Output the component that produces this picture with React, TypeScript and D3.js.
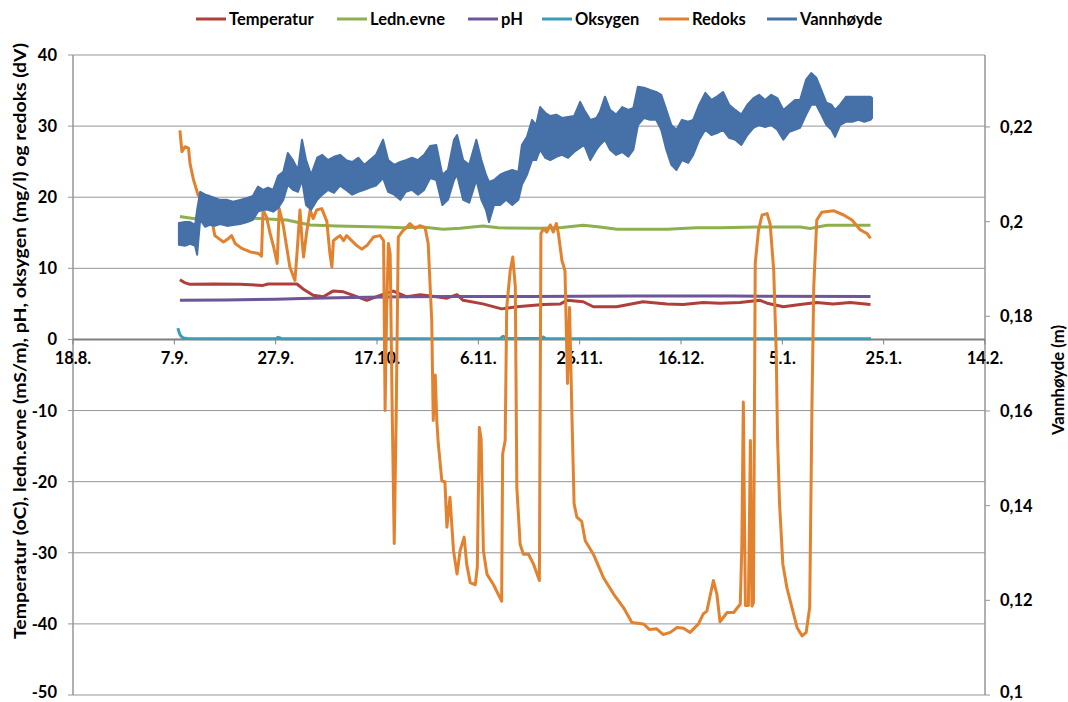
import React from 'react';
import * as d3 from 'd3';

type Pt = [number, number]; // [days after 18.8., value]

const startDate = new Date(2010, 7, 18);
const xTickLabels = ['18.8.', '7.9.', '27.9.', '17.10.', '6.11.', '26.11.', '16.12.', '5.1.', '25.1.', '14.2.'];
const leftTicks = [40, 30, 20, 10, 0, -10, -20, -30, -40, -50];
const rightTicks = [0.22, 0.2, 0.18, 0.16, 0.14, 0.12, 0.1];

const temperatur: Pt[] = [
  [21.1, 8.4], [22, 8.0], [23.1, 7.75], [28, 7.8], [33, 7.75], [37.5, 7.6], [38.5, 7.8], [44.2, 7.8],
  [45.4, 7.1], [47.4, 6.2], [49.4, 6.0], [51.3, 6.8], [53.4, 6.7], [55.3, 6.2], [58.0, 5.5], [60.6, 6.2],
  [63.2, 6.8], [65.9, 6.0], [68.5, 6.3], [71.8, 6.0], [73.8, 5.8], [75.8, 6.3], [77.0, 5.5], [80.9, 5.0],
  [84.6, 4.3], [87.6, 4.6], [92.8, 4.9], [96.2, 5.0], [97.5, 5.5], [100.7, 5.3], [102.7, 4.6], [107.3, 4.6],
  [112.5, 5.3], [117.2, 5.0], [120.4, 4.9], [124.4, 5.2], [127.7, 5.1], [131.6, 5.2], [135.6, 5.5],
  [137.0, 5.1], [140.2, 4.6], [143.5, 4.9], [146.8, 5.2], [150.0, 5.0], [153.4, 5.2], [157.4, 4.9],
];

const lednEvne: Pt[] = [
  [21.1, 17.3], [23.7, 17.0], [28, 17.1], [35.5, 17.05], [42.2, 16.8], [46.8, 16.1], [52.1, 15.95],
  [61.2, 15.8], [65.2, 15.7], [69, 15.8], [73, 15.5], [76.4, 15.65], [80.9, 15.95], [84, 15.7],
  [92.2, 15.65], [96.5, 15.75], [100.7, 16.05], [104, 15.8], [107.4, 15.5], [117.3, 15.5], [123, 15.7],
  [127.7, 15.7], [135, 15.8], [143.5, 15.8], [145.5, 15.6], [148.8, 16.05], [157.4, 16.05],
];

const pH: Pt[] = [
  [21.1, 5.5], [30, 5.55], [40, 5.65], [47, 5.8], [55, 5.9], [65, 6.0], [75, 6.05], [90, 6.05],
  [110, 6.1], [130, 6.1], [157.4, 6.05],
];

const oksygen: Pt[] = [
  [20.7, 1.6], [20.9, 1.1], [21.1, 0.7], [21.4, 0.4], [21.8, 0.2], [22.5, 0.12], [40, 0.1], [40.5, 0.3],
  [41.2, 0.1], [84.3, 0.12], [84.9, 0.45], [85.5, 0.12], [92.4, 0.12], [92.8, 0.35], [93.3, 0.12],
  [120, 0.1], [157.5, 0.1],
];

const redoks: Pt[] = [
  [21.1, 29.4], [21.5, 26.4], [22.1, 27.1], [22.8, 26.9], [23.1, 24.7], [23.8, 22.4], [24.7, 20.3],
  [25.7, 19.6], [27.4, 16.8], [28.0, 14.6], [29.7, 13.7], [30.7, 14.2], [31.3, 14.6], [32.0, 13.5],
  [33.3, 12.8], [35.0, 12.3], [36.6, 12.1], [37.2, 11.7], [37.5, 18.2], [38.2, 17.2], [38.9, 14.9],
  [39.6, 13.0], [40.3, 10.7], [40.7, 18.4], [41.5, 16.0], [42.8, 10.2], [43.8, 8.3], [44.2, 12.0],
  [44.8, 18.2], [45.2, 14.0], [45.5, 11.6], [46.1, 15.0], [46.8, 18.2], [47.4, 17.0], [48.1, 18.2],
  [49.1, 18.4], [50.1, 16.6], [50.7, 12.1], [51.1, 10.2], [51.4, 13.9], [52.1, 14.3], [52.7, 14.6],
  [53.4, 13.9], [54.0, 14.6], [55.0, 13.9], [56.0, 13.2], [57.0, 12.7], [58.0, 13.2], [59.3, 14.4],
  [60.6, 14.6], [61.3, 13.9], [61.6, -10.0], [61.9, 4.0], [62.25, 13.5], [62.6, 12.0], [63.0, -10.0],
  [63.4, -28.7], [63.8, -10.0], [64.2, 14.4], [65.0, 15.2], [65.9, 15.8], [66.5, 16.3], [67.5, 15.6],
  [68.5, 16.0], [69.5, 15.7], [70.1, 13.5], [70.8, 2.7], [71.1, -11.4], [71.5, -5.0], [71.8, -11.4],
  [72.1, -14.7], [72.8, -19.9], [73.4, -20.0], [73.8, -26.4], [74.4, -22.2], [75.1, -29.7], [75.8, -33.0],
  [76.4, -29.7], [77.2, -27.8], [77.7, -31.6], [78.4, -34.2], [79.4, -34.5], [79.8, -32.0], [80.2, -12.4],
  [80.55, -14.0], [81.0, -29.7], [81.7, -33.0], [83.0, -34.5], [84.6, -36.8], [84.8, -16.1], [85.3, -14.2],
  [85.6, 4.5], [86.3, 9.7], [86.8, 11.6], [87.3, 7.4], [87.6, -20.8], [88.25, -28.8], [88.9, -30.2],
  [89.9, -30.2], [90.9, -31.6], [92.05, -33.9], [92.35, 14.9], [92.85, 15.6], [93.5, 15.1], [94.2, 16.1],
  [94.8, 15.1], [95.4, 16.3], [95.8, 14.9], [96.5, 11.1], [97.1, 9.7], [97.6, -6.2], [98.0, 4.5],
  [98.5, -11.4], [98.9, -23.1], [99.45, -25.0], [100.4, -25.6], [101.1, -28.3], [102.7, -30.2],
  [104.7, -33.5], [106.7, -35.8], [108.65, -37.7], [110.3, -39.8], [112.6, -40.0], [113.8, -40.8],
  [115.2, -40.7], [116.5, -41.5], [117.9, -41.2], [119.2, -40.5], [120.5, -40.6], [121.8, -41.2],
  [123.45, -40.0], [124.4, -38.6], [125.1, -38.2], [126.4, -33.9], [127.1, -35.9], [127.7, -39.7],
  [129.1, -38.4], [130.4, -38.4], [131.7, -37.2], [132.0, -29.3], [132.3, -8.8], [132.7, -37.4],
  [133.3, -37.4], [133.7, -14.2], [134.0, -37.5], [134.3, -37.0], [134.65, 10.7], [135.3, 15.4],
  [136.0, 17.5], [137.0, 17.7], [137.6, 16.2], [138.3, 9.7], [138.8, -2.0], [139.05, -13.8],
  [139.45, -23.1], [140.1, -31.6], [140.9, -34.9], [141.9, -37.7], [142.9, -40.5], [143.9, -41.7],
  [144.7, -41.2], [145.4, -37.7], [145.85, -9.1], [146.2, 7.4], [146.8, 16.8], [147.8, 17.9],
  [150.1, 18.1], [152.1, 17.5], [153.75, 16.8], [155.4, 15.4], [156.7, 14.9], [157.4, 14.2],
];

// Vannhøyde: daily band (upper / lower envelope of the oscillating water level)
const vannDays = [
  20.9, 22.1, 23.1, 24.1, 24.5, 25.1, 26.1, 27.0, 28.0, 29.0, 30.4, 31.6, 33.0, 34.4, 35.5, 36.5, 37.5,
  38.5, 39.5, 40.5, 41.5, 42.4, 43.4, 44.4, 45.2, 46.0, 47.0, 48.2, 49.2, 50.3, 51.5, 52.7, 53.9, 55.1,
  56.3, 57.5, 58.6, 59.8, 61.2, 62.2, 63.4, 64.6, 65.7, 66.9, 68.1, 69.3, 70.5, 71.7, 72.9, 74.0, 75.2,
  75.8, 77.0, 78.2, 79.6, 80.6, 81.5, 82.1, 83.1, 84.3, 85.5, 86.7, 87.9, 88.6, 89.6, 90.6, 91.4, 92.2,
  93.2, 94.2, 95.4, 96.5, 97.7, 98.9, 100.1, 100.9, 102.1, 103.3, 104.0, 105.0, 106.0, 107.2, 108.4,
  109.6, 110.6, 111.5, 112.7, 113.9, 115.1, 116.1, 117.1, 118.1, 119.1, 120.2, 121.4, 122.4, 123.6,
  124.8, 126.0, 127.1, 128.3, 129.5, 130.7, 131.9, 133.1, 134.3, 135.4, 136.6, 137.8, 139.0, 140.2,
  141.4, 142.5, 143.5, 144.7, 145.7, 146.7, 147.7, 148.7, 149.7, 150.4, 151.4, 152.6, 153.8, 155.0,
  156.2, 157.4, 157.7,
];
const vannHigh = [
  0.1997, 0.1999, 0.1999, 0.1993, 0.2025, 0.2063, 0.2057, 0.2054, 0.2050, 0.2046, 0.2046, 0.2042, 0.2046,
  0.2050, 0.2054, 0.2074, 0.2067, 0.2072, 0.2067, 0.2097, 0.2105, 0.2145, 0.2130, 0.2109, 0.2173, 0.2130,
  0.2099, 0.2135, 0.2141, 0.2130, 0.2137, 0.2141, 0.2130, 0.2126, 0.2135, 0.2120, 0.2130, 0.2141, 0.2173,
  0.2130, 0.2120, 0.2126, 0.2130, 0.2135, 0.2130, 0.2141, 0.2160, 0.2162, 0.2099, 0.2109, 0.2173, 0.2183,
  0.2130, 0.2120, 0.2173, 0.2130, 0.2099, 0.2084, 0.2088, 0.2099, 0.2105, 0.2109, 0.2105, 0.2162, 0.2179,
  0.2215, 0.2204, 0.2242, 0.2230, 0.2223, 0.2226, 0.2219, 0.2221, 0.2223, 0.2253, 0.2236, 0.2215, 0.2219,
  0.2232, 0.2264, 0.2236, 0.2226, 0.2242, 0.2236, 0.2240, 0.2285, 0.2283, 0.2278, 0.2274, 0.2268, 0.2236,
  0.2204, 0.2194, 0.2215, 0.2211, 0.2215, 0.2247, 0.2272, 0.2257, 0.2264, 0.2274, 0.2247, 0.2236, 0.2226,
  0.2247, 0.2261, 0.2268, 0.2257, 0.2268, 0.2261, 0.2236, 0.2247, 0.2257, 0.2257, 0.2300, 0.2314, 0.2304,
  0.2278, 0.2251, 0.2247, 0.2236, 0.2247, 0.2264, 0.2264, 0.2264, 0.2264, 0.2264, 0.2261,
];
const vannLow = [
  0.1951, 0.1949, 0.1953, 0.1949, 0.1930, 0.2004, 0.1989, 0.1993, 0.1991, 0.1995, 0.1991, 0.1993, 0.1995,
  0.1999, 0.2004, 0.2021, 0.2025, 0.2025, 0.2021, 0.2029, 0.2046, 0.2078, 0.2067, 0.2063, 0.2088, 0.2035,
  0.2025, 0.2046, 0.2057, 0.2067, 0.2061, 0.2076, 0.2067, 0.2057, 0.2063, 0.2067, 0.2072, 0.2076, 0.2092,
  0.2063, 0.2057, 0.2046, 0.2063, 0.2067, 0.2057, 0.2067, 0.2092, 0.2088, 0.2035, 0.2046, 0.2088, 0.2099,
  0.2046, 0.2040, 0.2088, 0.2046, 0.2025, 0.1999, 0.2035, 0.2035, 0.2046, 0.2035, 0.2046, 0.2078, 0.2099,
  0.2130, 0.2130, 0.2152, 0.2135, 0.2130, 0.2137, 0.2141, 0.2135, 0.2147, 0.2156, 0.2162, 0.2130, 0.2152,
  0.2162, 0.2173, 0.2152, 0.2141, 0.2147, 0.2137, 0.2152, 0.2204, 0.2219, 0.2215, 0.2215, 0.2194, 0.2152,
  0.2120, 0.2109, 0.2130, 0.2124, 0.2141, 0.2173, 0.2194, 0.2183, 0.2187, 0.2194, 0.2177, 0.2173, 0.2162,
  0.2183, 0.2198, 0.2204, 0.2200, 0.2204, 0.2194, 0.2173, 0.2190, 0.2194, 0.2198, 0.2226, 0.2247, 0.2247,
  0.2226, 0.2204, 0.2194, 0.2179, 0.2204, 0.2211, 0.2211, 0.2215, 0.2211, 0.2215, 0.2219,
];

const colors = {
  temperatur: '#B03E3B',
  lednEvne: '#8DB04F',
  pH: '#6F5497',
  oksygen: '#3C9DB8',
  redoks: '#E2822F',
  vann: '#4570A8',
};

const legendItems = [
  { label: 'Temperatur', color: colors.temperatur, x: 196 },
  { label: 'Ledn.evne', color: colors.lednEvne, x: 337 },
  { label: 'pH', color: colors.pH, x: 468 },
  { label: 'Oksygen', color: colors.oksygen, x: 542 },
  { label: 'Redoks', color: colors.redoks, x: 659 },
  { label: 'Vannhøyde', color: colors.vann, x: 767 },
];

const W = 1068;
const H = 702;
const plot = { left: 73, right: 985, top: 55, bottom: 695 };
const font = 'Lato, "Open Sans", sans-serif';
const gridColor = '#969696';

const dayToDate = (d: number) => new Date(startDate.getTime() + d * 864e5);

export default function App() {
  const x = d3.scaleTime().domain([startDate, dayToDate(180)]).range([plot.left, plot.right]);
  const yL = d3.scaleLinear().domain([-50, 40]).range([plot.bottom, plot.top]);
  const yR = d3.scaleLinear().domain([0.1, 0.2352]).range([plot.bottom, plot.top]);

  const line = d3
    .line<Pt>()
    .x((d) => x(dayToDate(d[0])))
    .y((d) => yL(d[1]));

  const vannArea = d3
    .area<number>()
    .x((d) => x(dayToDate(d)))
    .y0((_, i) => yR(vannLow[i]))
    .y1((_, i) => yR(vannHigh[i]));

  const series: { data: Pt[]; color: string }[] = [
    { data: temperatur, color: colors.temperatur },
    { data: lednEvne, color: colors.lednEvne },
    { data: pH, color: colors.pH },
    { data: oksygen, color: colors.oksygen },
    { data: redoks, color: colors.redoks },
  ];

  const y0 = yL(0);

  return (
    <svg
      width={W}
      height={H}
      style={{ position: 'absolute', left: 0, top: 0, background: '#fff' }}
      fontFamily={font}
    >
      {/* gridlines + left axis */}
      {leftTicks.map((t) => (
        <g key={t}>
          <line x1={plot.left} x2={plot.right} y1={yL(t)} y2={yL(t)} stroke={gridColor} strokeWidth={1} />
          <line x1={plot.left - 5} x2={plot.left} y1={yL(t)} y2={yL(t)} stroke={gridColor} strokeWidth={1} />
          <text
            x={57}
            y={Math.min(yL(t), 692)}
            textAnchor="end"
            dominantBaseline="central"
            fontSize={16.5}
            fontWeight="bold"
          >
            {t}
          </text>
        </g>
      ))}

      <line x1={plot.left} x2={plot.left} y1={plot.top} y2={plot.bottom} stroke={gridColor} strokeWidth={1.5} />
      <line x1={plot.right} x2={plot.right} y1={plot.top} y2={plot.bottom} stroke={gridColor} strokeWidth={1.5} />

      {/* right axis */}
      {rightTicks.map((t) => (
        <g key={t}>
          <line x1={plot.right} x2={plot.right + 5} y1={yR(t)} y2={yR(t)} stroke={gridColor} strokeWidth={1} />
          <text
            x={1000}
            y={Math.min(yR(t), 692)}
            dominantBaseline="central"
            fontSize={16.5}
            fontWeight="bold"
          >
            {String(t).replace('.', ',')}
          </text>
        </g>
      ))}

      {/* x axis at 0 (under the series) */}
      <line x1={plot.left} x2={plot.right} y1={y0} y2={y0} stroke="#808080" strokeWidth={2} />
      {xTickLabels.map((lab, i) => {
        const px = x(dayToDate(i * 20));
        return (
          <g key={lab}>
            <line x1={px} x2={px} y1={y0} y2={y0 + 5} stroke="#808080" strokeWidth={1} />
            <text x={px} y={y0 + 25} textAnchor="middle" fontSize={16.5} fontWeight="bold">
              {lab}
            </text>
          </g>
        );
      })}

      {/* series */}
      {series.map((s, i) => (
        <path key={i} d={line(s.data) ?? ''} fill="none" stroke={s.color} strokeWidth={3} strokeLinejoin="round" />
      ))}
      <path
        d={vannArea(vannDays) ?? ''}
        fill={colors.vann}
        stroke={colors.vann}
        strokeWidth={2}
        strokeLinejoin="round"
      />

      {/* axis titles */}
      <text
        transform={`translate(19, 341) rotate(-90)`}
        textAnchor="middle"
        dominantBaseline="central"
        fontSize={17}
        fontWeight="bold"
        textLength={596}
        lengthAdjust="spacingAndGlyphs"
      >
        Temperatur (oC), ledn.evne (mS/m), pH, oksygen (mg/l) og redoks (dV)
      </text>
      <text
        transform={`translate(1057, 380) rotate(-90)`}
        textAnchor="middle"
        dominantBaseline="central"
        fontSize={17}
        fontWeight="bold"
        textLength={110}
        lengthAdjust="spacingAndGlyphs"
      >
        Vannhøyde (m)
      </text>

      {/* legend */}
      {legendItems.map((it) => (
        <g key={it.label}>
          <line x1={it.x} x2={it.x + 30} y1={19} y2={19} stroke={it.color} strokeWidth={3} />
          <text x={it.x + 33} y={19} dominantBaseline="central" fontSize={16.5} fontWeight="bold">
            {it.label}
          </text>
        </g>
      ))}
    </svg>
  );
}
